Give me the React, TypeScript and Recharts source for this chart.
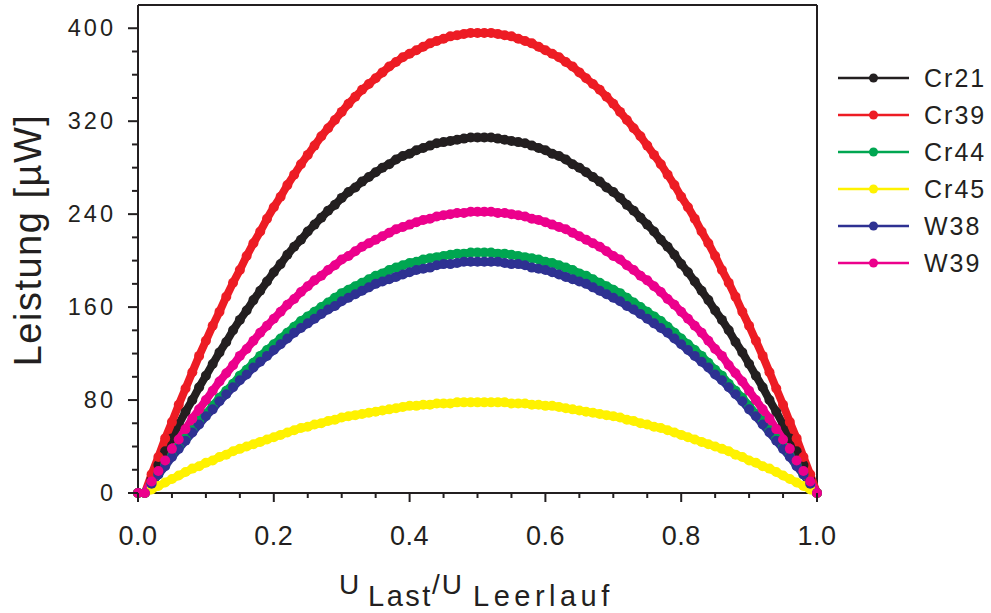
import React from "react";
import { LineChart, Line, XAxis, YAxis, Legend, ReferenceLine } from "recharts";

const INK = "#231f20";
const FONT = '"Liberation Sans", Arial, sans-serif';

// U_Last / U_Leerlauf
const U_RATIO = [
  0, 0.01, 0.02, 0.03, 0.04, 0.05, 0.06, 0.07, 0.08, 0.09,
  0.1, 0.11, 0.12, 0.13, 0.14, 0.15, 0.16, 0.17, 0.18, 0.19,
  0.2, 0.21, 0.22, 0.23, 0.24, 0.25, 0.26, 0.27, 0.28, 0.29,
  0.3, 0.31, 0.32, 0.33, 0.34, 0.35, 0.36, 0.37, 0.38, 0.39,
  0.4, 0.41, 0.42, 0.43, 0.44, 0.45, 0.46, 0.47, 0.48, 0.49,
  0.5, 0.51, 0.52, 0.53, 0.54, 0.55, 0.56, 0.57, 0.58, 0.59,
  0.6, 0.61, 0.62, 0.63, 0.64, 0.65, 0.66, 0.67, 0.68, 0.69,
  0.7, 0.71, 0.72, 0.73, 0.74, 0.75, 0.76, 0.77, 0.78, 0.79,
  0.8, 0.81, 0.82, 0.83, 0.84, 0.85, 0.86, 0.87, 0.88, 0.89,
  0.9, 0.91, 0.92, 0.93, 0.94, 0.95, 0.96, 0.97, 0.98, 0.99,
  1,
];

// Leistung in µW
const CR21 = [
  0, 0, 12, 24, 36, 47, 59, 70, 80, 91, 101, 111, 121, 130, 140, 149, 157, 166, 174, 182,
  190, 197, 205, 212, 218, 225, 231, 237, 243, 248, 254, 259, 263, 268, 272, 276, 280, 283, 287, 290,
  292, 295, 297, 299, 301, 302, 303, 304, 305, 306, 306, 306,
  306, 305, 304, 303, 302, 301, 299, 297, 295, 292, 290, 287, 283, 280, 276, 272, 268, 263, 259, 254,
  248, 243, 237, 231, 225, 218, 212, 205, 197, 190, 182, 174, 166, 157, 149, 140, 130, 121, 111, 101,
  91, 80, 70, 59, 47, 36, 24, 12, 0,
];
const CR39 = [
  0, 0, 16, 31, 47, 61, 76, 90, 104, 118, 131, 144, 156, 169, 181, 192, 204, 215, 225, 236,
  246, 255, 265, 274, 283, 291, 299, 307, 314, 321, 328, 335, 341, 347, 352, 357, 362, 367, 371, 375,
  378, 381, 384, 387, 389, 391, 393, 394, 395, 396, 396, 396,
  396, 395, 394, 393, 391, 389, 387, 384, 381, 378, 375, 371, 367, 362, 357, 352, 347, 341, 335, 328,
  321, 314, 307, 299, 291, 283, 274, 265, 255, 246, 236, 225, 215, 204, 192, 181, 169, 156, 144, 131,
  118, 104, 90, 76, 61, 47, 31, 16, 0,
];
const CR44 = [
  0, 0, 8, 16, 24, 32, 40, 47, 54, 62, 68, 75, 82, 88, 94, 101, 106, 112, 118, 123,
  128, 133, 138, 143, 148, 152, 156, 160, 164, 168, 172, 175, 178, 181, 184, 187, 189, 192, 194, 196,
  198, 199, 201, 202, 203, 204, 205, 206, 206, 207, 207, 207,
  207, 206, 206, 205, 204, 203, 202, 201, 199, 198, 196, 194, 192, 189, 187, 184, 181, 178, 175, 172,
  168, 164, 160, 156, 152, 148, 143, 138, 133, 128, 123, 118, 112, 106, 101, 94, 88, 82, 75, 68,
  62, 54, 47, 40, 32, 24, 16, 8, 0,
];
const CR45 = [
  0, 0, 3, 6, 9, 12, 15, 18, 21, 23, 26, 28, 31, 33, 36, 38, 40, 42, 44, 46,
  48, 50, 52, 54, 56, 57, 59, 60, 62, 63, 65, 66, 67, 68, 69, 70, 71, 72, 73, 74,
  75, 75, 76, 76, 77, 77, 77, 78, 78, 78, 78, 78,
  78, 78, 78, 77, 77, 77, 76, 76, 75, 75, 74, 73, 72, 71, 70, 69, 68, 67, 66, 65,
  63, 62, 60, 59, 57, 56, 54, 52, 50, 48, 46, 44, 42, 40, 38, 36, 33, 31, 28, 26,
  23, 21, 18, 15, 12, 9, 6, 3, 0,
];
const W38 = [
  0, 0, 8, 16, 23, 31, 38, 45, 52, 59, 66, 72, 79, 85, 91, 97, 102, 108, 113, 118,
  123, 128, 133, 138, 142, 146, 150, 154, 158, 161, 165, 168, 171, 174, 177, 180, 182, 184, 186, 188,
  190, 192, 193, 194, 196, 197, 197, 198, 199, 199, 199, 199,
  199, 199, 198, 197, 197, 196, 194, 193, 192, 190, 188, 186, 184, 182, 180, 177, 174, 171, 168, 165,
  161, 158, 154, 150, 146, 142, 138, 133, 128, 123, 118, 113, 108, 102, 97, 91, 85, 79, 72, 66,
  59, 52, 45, 38, 31, 23, 16, 8, 0,
];
const W39 = [
  0, 0, 10, 19, 28, 38, 46, 55, 64, 72, 80, 88, 96, 103, 110, 118, 124, 131, 138, 144,
  150, 156, 162, 167, 173, 178, 183, 187, 192, 196, 201, 204, 208, 212, 215, 218, 221, 224, 227, 229,
  231, 233, 235, 236, 238, 239, 240, 241, 241, 242, 242, 242,
  242, 241, 241, 240, 239, 238, 236, 235, 233, 231, 229, 227, 224, 221, 218, 215, 212, 208, 204, 201,
  196, 192, 187, 183, 178, 173, 167, 162, 156, 150, 144, 138, 131, 124, 118, 110, 103, 96, 88, 80,
  72, 64, 55, 46, 38, 28, 19, 10, 0,
];

const X_TICKS = [
  0, 0.05, 0.1, 0.15, 0.2, 0.25, 0.3, 0.35, 0.4, 0.45, 0.5,
  0.55, 0.6, 0.65, 0.7, 0.75, 0.8, 0.85, 0.9, 0.95, 1,
];
const X_LABELS = [0, 0.2, 0.4, 0.6, 0.8, 1];
const Y_TICKS = [
  0, 20, 40, 60, 80, 100, 120, 140, 160, 180, 200,
  220, 240, 260, 280, 300, 320, 340, 360, 380, 400,
];
const Y_LABELS = [0, 80, 160, 240, 320, 400];

const SERIES = [
  { key: "Cr21", values: CR21, color: "#231f20" },
  { key: "Cr39", values: CR39, color: "#ed1c24" },
  { key: "Cr44", values: CR44, color: "#00a651" },
  { key: "Cr45", values: CR45, color: "#fff200" },
  { key: "W38", values: W38, color: "#2e3192" },
  { key: "W39", values: W39, color: "#ec008c" },
];

const data = U_RATIO.map((x, i) => {
  const row: Record<string, number> = { x };
  SERIES.forEach((s) => {
    row[s.key] = s.values[i];
  });
  return row;
});

const isIn = (list: number[], v: number) => list.some((t) => Math.abs(t - v) < 1e-6);

function XTick({ x, y, payload }: any) {
  const v = payload.value;
  const major = isIn(X_LABELS, v);
  return (
    <g>
      <line x1={x} x2={x} y1={y} y2={y + (major ? 9 : 5)} stroke={INK} strokeWidth={2} />
      {major && (
        <text x={x} y={y + 52} textAnchor="middle" fontSize={27} letterSpacing={0.5} fill={INK} fontFamily={FONT}>
          {v.toFixed(1)}
        </text>
      )}
    </g>
  );
}

function YTick({ x, y, payload }: any) {
  const v = payload.value;
  const major = isIn(Y_LABELS, v);
  return (
    <g>
      <line x1={x} x2={x - (major ? 10 : 6)} y1={y} y2={y} stroke={INK} strokeWidth={2} />
      {major && (
        <text x={x - 22} y={y + 8} textAnchor="end" fontSize={23.5} letterSpacing={3} fill={INK} fontFamily={FONT}>
          {v}
        </text>
      )}
    </g>
  );
}

function LegendBox({ payload }: any) {
  return (
    <div style={{ fontFamily: FONT }}>
      {(payload || []).map((p: any) => (
        <div key={p.value} style={{ display: "flex", alignItems: "center", height: 37 }}>
          <svg width={88} height={12} style={{ display: "block" }}>
            <line x1={2} x2={73} y1={6} y2={6} stroke={p.color} strokeWidth={2.5} />
            <circle cx={37.5} cy={6} r={4.5} fill={p.color} />
          </svg>
          <span style={{ fontSize: 25, letterSpacing: 2, color: INK, lineHeight: 1 }}>{p.value}</span>
        </div>
      ))}
    </div>
  );
}

export default function App() {
  return (
    <div style={{ position: "relative", width: 991, height: 613, background: "#fff" }}>
      <style>{"html,body{margin:0;padding:0;overflow:hidden;}"}</style>
      <LineChart
        width={991}
        height={613}
        data={data}
        margin={{ top: 5, right: 174, left: 78, bottom: 80 }}
      >
        <XAxis
          dataKey="x"
          type="number"
          domain={[0, 1]}
          ticks={X_TICKS}
          interval={0}
          tickSize={0}
          tickMargin={0}
          tickLine={false}
          tick={XTick}
          axisLine={{ stroke: INK, strokeWidth: 2 }}
          height={40}
        />
        <YAxis
          type="number"
          domain={[0, 420]}
          ticks={Y_TICKS}
          interval={0}
          tickSize={0}
          tickMargin={0}
          tickLine={false}
          tick={YTick}
          axisLine={{ stroke: INK, strokeWidth: 2 }}
          width={60}
        />
        <ReferenceLine y={420} stroke={INK} strokeWidth={2} ifOverflow="visible" />
        <ReferenceLine x={1} stroke={INK} strokeWidth={2} ifOverflow="visible" />
        <Legend
          layout="vertical"
          align="center"
          verticalAlign="middle"
          content={LegendBox}
          wrapperStyle={{ left: 836, top: 59.5, width: 155 }}
        />
        {SERIES.map((s) => (
          <Line
            key={s.key}
            dataKey={s.key}
            name={s.key}
            type="linear"
            stroke={s.color}
            strokeWidth={8}
            dot={{ r: 5, fill: s.color, stroke: s.color, strokeWidth: 0 }}
            activeDot={false}
            isAnimationActive={false}
          />
        ))}
      </LineChart>
      <svg
        width={991}
        height={613}
        style={{ position: "absolute", left: 0, top: 0, pointerEvents: "none" }}
        fontFamily={FONT}
        fill={INK}
      >
        <text transform="rotate(-90 41 240)" x={41} y={240} textAnchor="middle" fontSize={38} letterSpacing={1.5}>
          Leistung [µW]
        </text>
        <text x={339} y={594} fontSize={28} letterSpacing={2}>
          U
          <tspan x={368} y={606} fontSize={29} letterSpacing={2.5}>Last</tspan>
          <tspan x={432} y={594}>/U</tspan>
          <tspan x={473} y={606} fontSize={29} letterSpacing={4.5}>Leerlauf</tspan>
        </text>
      </svg>
    </div>
  );
}
